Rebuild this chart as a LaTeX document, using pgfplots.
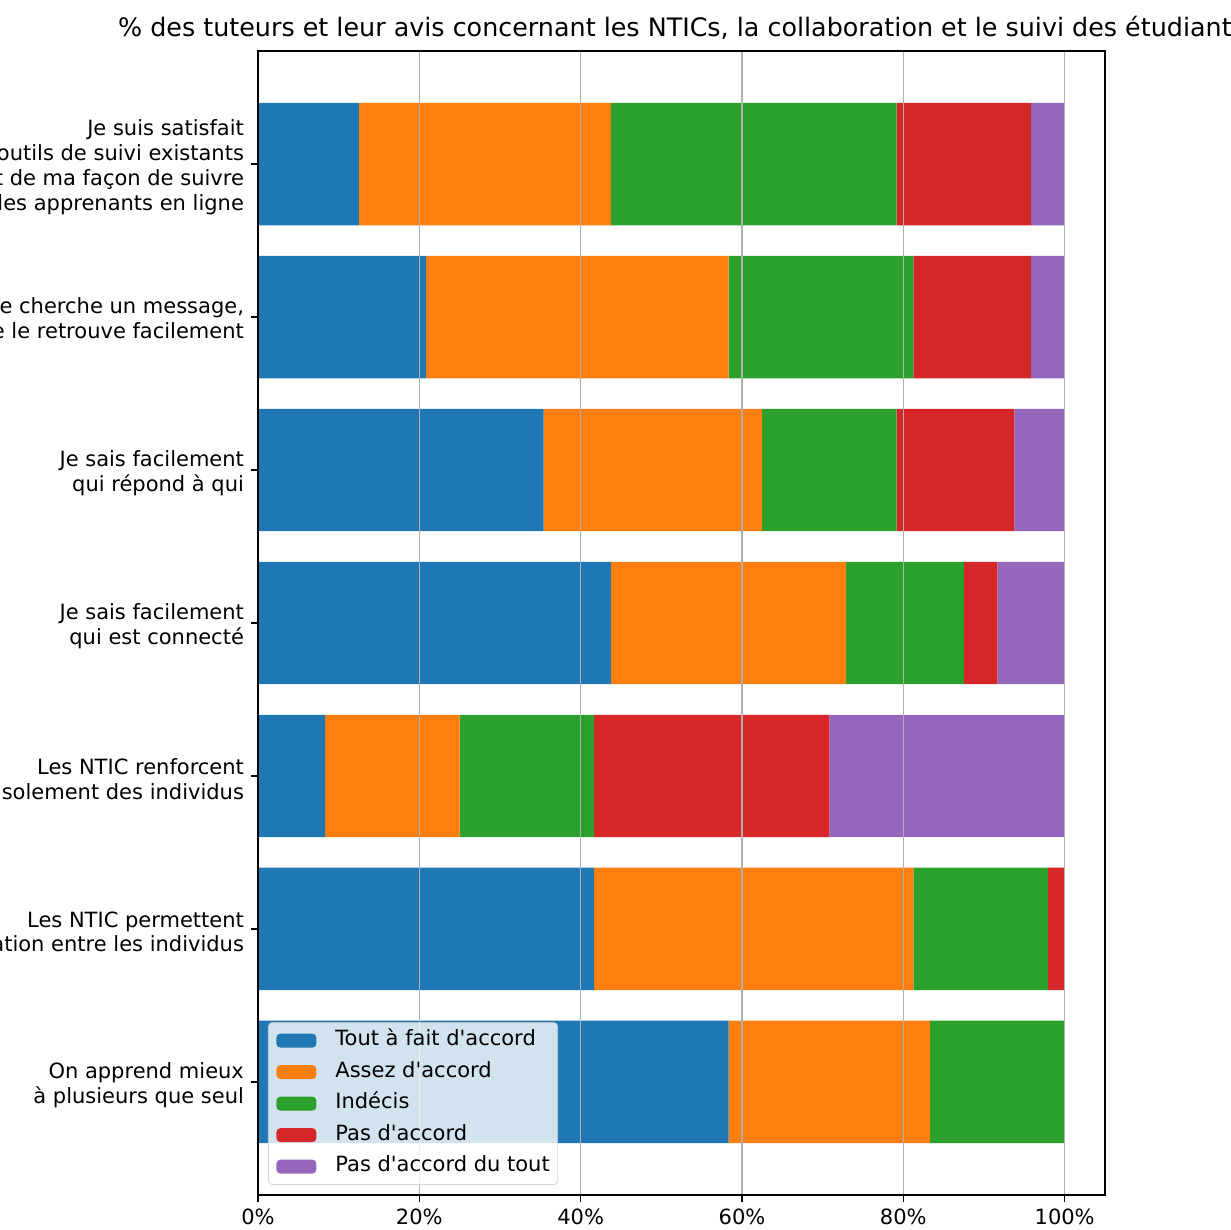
\documentclass[border=0pt]{standalone}
\usepackage{pgfplots}
\pgfplotsset{compat=1.18}
\usepackage{pgfplotstable}
\usepackage{fontspec}
\setmainfont{DejaVu Sans}
\definecolor{tabblue}{HTML}{1F77B4}
\definecolor{taborange}{HTML}{FF7F0E}
\definecolor{tabgreen}{HTML}{2CA02C}
\definecolor{tabred}{HTML}{D62728}
\definecolor{tabpurple}{HTML}{9467BD}
\definecolor{gridgray}{HTML}{B0B0B0}
\definecolor{legendgray}{HTML}{CCCCCC}

\pgfplotstableread{
y a b c d e
0 58.33 25.00 16.67 0 0
1 41.67 39.58 16.67 2.08 0
2 8.33 16.67 16.67 29.17 29.16
3 43.75 29.17 14.58 4.17 8.33
4 35.42 27.08 16.67 14.58 6.25
5 20.83 37.50 22.92 14.58 4.17
6 12.50 31.25 35.42 16.67 4.16
}\data

\begin{document}
\begin{tikzpicture}
\begin{axis}[
  width=423.5pt, height=572pt, scale only axis,
  xbar stacked, bar width=0.8,
  xmin=0, xmax=105, ymin=-0.74, ymax=6.74,
  xtick={0,20,40,60,80,100},
  xticklabels={0\%,20\%,40\%,60\%,80\%,100\%},
  ytick={0,1,2,3,4,5,6},
  yticklabels={
    {On apprend mieux\\à plusieurs que seul},
    {Les NTIC permettent\\la collaboration entre les individus},
    {Les NTIC renforcent\\l\textquotesingle isolement des individus},
    {Je sais facilement\\qui est connecté},
    {Je sais facilement\\qui répond à qui},
    {Quand je cherche un message,\\je le retrouve facilement},
    {Je suis satisfait\\des outils de suivi existants\\et de ma façon de suivre\\les apprenants en ligne}},
  yticklabel style={align=right, font=\fontsize{10.5}{12.4}\selectfont, yshift=-1.5pt},
  xticklabel style={font=\fontsize{10.5}{12.4}\selectfont},
  tick align=outside, major tick length=3.5pt,
  xtick pos=bottom, ytick pos=left,
  tick style={black, line width=0.8pt},
  axis line style={black, line width=0.8pt},
  xmajorgrids, grid style={color=gridgray, line width=0.8pt},
  axis on top,
  every axis title shift=0pt,
  title={\% des tuteurs et leur avis concernant les NTICs, la collaboration et le suivi des étudiants},
  title style={font=\fontsize{12.7}{15}\selectfont, at={(0.5,1)}, anchor=base, yshift=7pt},
  legend style={at={(0,0)}, anchor=south west, xshift=5pt, yshift=5pt,
    fill=white, fill opacity=0.8, draw opacity=0.8, text opacity=1,
    draw=legendgray, rounded corners=2pt, font=\fontsize{10.5}{12.4}\selectfont,
    row sep=5.75pt, inner xsep=4pt, inner ysep=4pt, column sep=9.5pt,
    nodes={inner sep=0pt, text height=7.5pt, text depth=2.5pt}},
  legend cell align=left,
  legend image code/.code={\fill[#1, fill opacity=1] (0pt,-3.5pt) rectangle (20pt,3.5pt);},
  every axis plot/.append style={draw=none},
]
\addplot[fill=tabblue, draw=none] table[x=a, y=y] {\data};
\addlegendentry{Tout à fait d\textquotesingle accord}
\addplot[fill=taborange, draw=none] table[x=b, y=y] {\data};
\addlegendentry{Assez d\textquotesingle accord}
\addplot[fill=tabgreen, draw=none] table[x=c, y=y] {\data};
\addlegendentry{Indécis}
\addplot[fill=tabred, draw=none] table[x=d, y=y] {\data};
\addlegendentry{Pas d\textquotesingle accord}
\addplot[fill=tabpurple, draw=none] table[x=e, y=y] {\data};
\addlegendentry{Pas d\textquotesingle accord du tout}
\coordinate (bl) at (rel axis cs:0,0);
\coordinate (tr) at (rel axis cs:1,1);
\end{axis}
\pgfresetboundingbox
\path[use as bounding box] ([shift={(-129pt,-17pt)}]bl) rectangle ([shift={(63pt,25.5pt)}]tr);
\end{tikzpicture}
\end{document}
